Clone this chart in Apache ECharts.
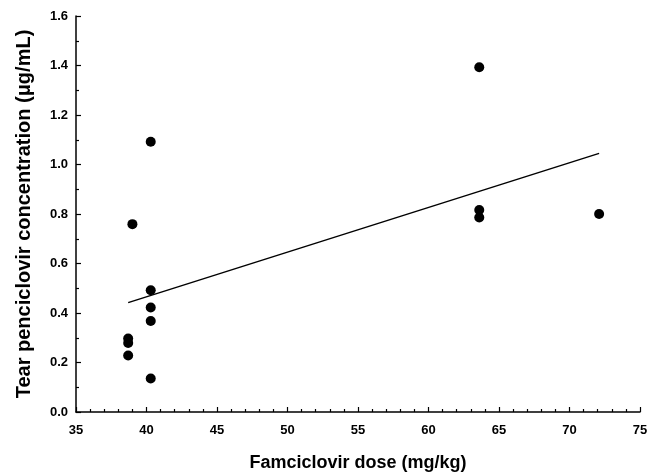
<!DOCTYPE html>
<html>
  <head>
    <meta charset="utf-8" />
    <title>Tear penciclovir vs famciclovir dose</title>
    <script src="https://cdn.jsdelivr.net/npm/echarts@6/dist/echarts.min.js"></script>
  </head>
  <body style="margin:0">
    <div id="main" style="width: 651px;height:472px;"></div>
    <script type="text/javascript">
      // measured points: dose (mg/kg), concentration (ug/mL)
      var dose = [38.7, 38.7, 38.7, 39.0, 40.3, 40.3, 40.3, 40.3, 40.3, 63.6, 63.6, 63.6, 72.1];
      var conc = [0.297, 0.279, 0.228, 0.759, 1.092, 0.492, 0.422, 0.368, 0.135, 1.393, 0.816, 0.786, 0.80];
      // regression line end points
      var fitX = [38.7, 72.1];
      var fitY = [0.442, 1.045];

      var points = [];
      for (var i = 0; i < dose.length; i++) {
        points.push([dose[i], conc[i]]);
      }
      var fit = [];
      for (var j = 0; j < fitX.length; j++) {
        fit.push([fitX[j], fitY[j]]);
      }

      var font = 'Liberation Sans, Arial, sans-serif';
      var myChart = echarts.init(document.getElementById('main'));
      var option = {
        animation: false,
        grid: {
          left: 76,
          right: 11,
          top: 16,
          bottom: 60,
          containLabel: false,
          outerBoundsMode: 'none'
        },
        xAxis: {
          type: 'value',
          min: 35,
          max: 75,
          interval: 5,
          name: 'Famciclovir dose (mg/kg)',
          nameLocation: 'middle',
          nameGap: 42,
          nameTextStyle: {color: '#000', fontWeight: 'bold', fontSize: 18, fontFamily: font},
          axisLine: {show: true, lineStyle: {color: '#000', width: 1.5}},
          axisTick: {show: true, inside: true, length: 5, lineStyle: {color: '#000', width: 1.2}},
          minorTick: {show: true, splitNumber: 5, length: 3, lineStyle: {color: '#000', width: 1.2}},
          axisLabel: {color: '#000', fontWeight: 'bold', fontSize: 13, fontFamily: font, margin: 12},
          splitLine: {show: false}
        },
        yAxis: {
          type: 'value',
          min: 0,
          max: 1.6,
          interval: 0.2,
          name: 'Tear penciclovir concentration (\u03bcg/mL)',
          nameLocation: 'middle',
          nameGap: 42,
          nameTextStyle: {color: '#000', fontWeight: 'bold', fontSize: 20, fontFamily: font},
          axisLine: {show: true, lineStyle: {color: '#000', width: 1.5}},
          axisTick: {show: true, inside: true, length: 5, lineStyle: {color: '#000', width: 1.2}},
          minorTick: {show: true, splitNumber: 2, length: 3, lineStyle: {color: '#000', width: 1.2}},
          axisLabel: {
            color: '#000', fontWeight: 'bold', fontSize: 13, fontFamily: font, margin: 8,
            formatter: function (v) { return v.toFixed(1); }
          },
          splitLine: {show: false}
        },
        series: [
          {
            type: 'scatter',
            data: points,
            symbol: 'circle',
            symbolSize: 10,
            itemStyle: {color: '#000', opacity: 1}
          },
          {
            type: 'line',
            data: fit,
            symbol: 'none',
            lineStyle: {color: '#000', width: 1.5}
          }
        ]
      };
      myChart.setOption(option);
    </script>
  </body>
</html>
